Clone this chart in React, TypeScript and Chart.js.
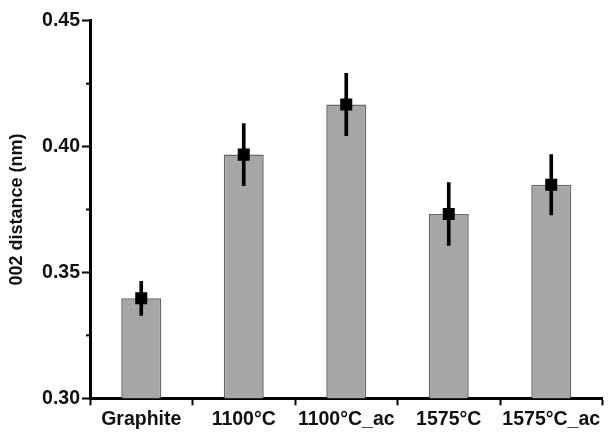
import React, { useEffect, useRef } from "react";
import { Chart, registerables } from "chart.js";

Chart.register(...registerables);

const categories = ["Graphite", "1100°C", "1100°C_ac", "1575°C", "1575°C_ac"];
const values = [0.3397, 0.3968, 0.4167, 0.3732, 0.3848];
const errors = [0.0068, 0.0123, 0.0124, 0.0125, 0.012];
const yMajorTicks = [0.3, 0.35, 0.4, 0.45];
const yMinorTicks = [0.325, 0.375, 0.425];

const FONT = "'Liberation Sans', Arial, sans-serif";

const minorTickPlugin = {
  id: "minorTicks",
  afterDraw(chart: any) {
    const y = chart.scales.y;
    const ctx = chart.ctx;
    ctx.save();
    ctx.strokeStyle = "#000";
    ctx.lineWidth = 2;
    yMinorTicks.forEach((v) => {
      const py = y.getPixelForValue(v);
      ctx.beginPath();
      ctx.moveTo(chart.chartArea.left - 4, py);
      ctx.lineTo(chart.chartArea.left, py);
      ctx.stroke();
    });
    ctx.restore();
  },
};

export default function App() {
  const ref = useRef<HTMLCanvasElement>(null);
  useEffect(() => {
    document.body.style.margin = "0";
    const chart = new Chart(ref.current as HTMLCanvasElement, {
      type: "bar",
      data: {
        labels: categories,
        datasets: [
          {
            type: "line",
            data: values,
            showLine: false,
            pointStyle: "rect",
            pointRadius: 8.5,
            pointBackgroundColor: "#000",
            pointBorderWidth: 0,
            order: 0,
          } as any,
          {
            type: "bar",
            data: values.map((v, i) => [v - errors[i], v + errors[i]]),
            backgroundColor: "#000",
            borderWidth: 0,
            barThickness: 3,
            grouped: false,
            order: 1,
          } as any,
          {
            type: "bar",
            data: values,
            backgroundColor: "#a6a6a6",
            borderColor: "#666666",
            borderWidth: 1.5,
            borderSkipped: false,
            barPercentage: 0.39,
            categoryPercentage: 1,
            grouped: false,
            order: 2,
          } as any,
        ],
      },
      options: {
        responsive: false,
        animation: false,
        layout: { padding: { left: 0, right: 4.5, top: 20.7, bottom: 0 } },
        plugins: { legend: { display: false }, tooltip: { enabled: false } },
        scales: {
          x: {
            offset: true,
            grid: {
              display: true,
              drawOnChartArea: false,
              tickLength: 7,
              tickWidth: 2,
              tickColor: "#000",
            },
            border: { display: true, color: "#000", width: 3 },
            ticks: {
              color: "#111",
              padding: 3,
              font: { family: FONT, size: 19.5, weight: "bold" },
              maxRotation: 0,
              autoSkip: false,
            },
            afterFit: (s: any) => {
              s.height = 33.7;
            },
          },
          y: {
            min: 0.3,
            max: 0.45,
            afterBuildTicks: (s: any) => {
              s.ticks = yMajorTicks.map((v) => ({ value: v }));
            },
            grid: {
              display: true,
              drawOnChartArea: false,
              tickLength: 8,
              tickWidth: 2,
              tickColor: "#000",
            },
            border: { display: true, color: "#000", width: 3 },
            ticks: {
              color: "#111",
              padding: 2,
              font: { family: FONT, size: 19.5, weight: "bold" },
              callback: (v: any) => Number(v).toFixed(2),
            },
            title: {
              display: true,
              text: "002 distance (nm)",
              color: "#111",
              font: { family: FONT, size: 18, weight: "bold" },
              padding: { top: 6, bottom: 0 },
            },
            afterFit: (s: any) => {
              s.width = 90;
            },
          },
        },
      },
      plugins: [minorTickPlugin],
    });
    return () => chart.destroy();
  }, []);
  return (
    <div style={{ width: 611, height: 432, background: "#fff" }}>
      <canvas ref={ref} width={611} height={432} />
    </div>
  );
}
